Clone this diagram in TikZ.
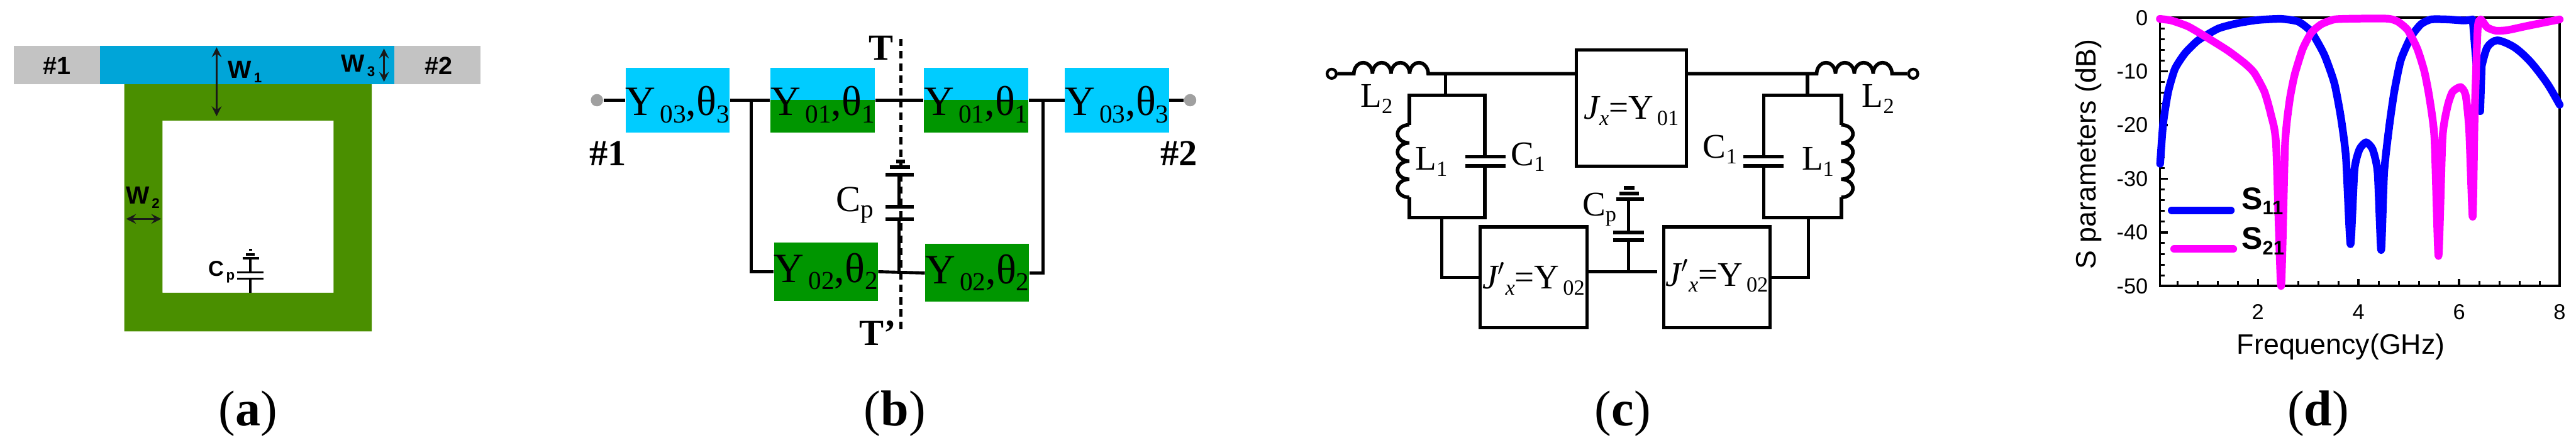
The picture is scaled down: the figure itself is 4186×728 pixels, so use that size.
\documentclass[tikz,border=0pt]{standalone}
\usepackage{fontspec}
\setmainfont{Liberation Serif}
\newfontfamily\arialf{Liberation Sans}
\newcommand{\lowtxt}[2][12]{\raisebox{-.17em}{\fontsize{#1}{#1}\selectfont #2}}
\newcommand{\fsz}[1]{\fontsize{#1}{#1}\selectfont}
\definecolor{stripgrey}{HTML}{C3C3C3}
\definecolor{stripblue}{HTML}{00A5D8}
\definecolor{ringgreen}{HTML}{4A8F00}
\definecolor{tlcyan}{HTML}{00CCFF}
\definecolor{tlgreen}{HTML}{009600}
\definecolor{portgrey}{HTML}{A0A0A0}
\definecolor{sblue}{HTML}{0000FF}
\definecolor{smagenta}{HTML}{FF00FF}

\begin{document}
\begin{tikzpicture}[x=.01cm,y=-.01cm]
   \tikzstyle{wire}=[line width=.058cm, line join=miter]
   \tikzstyle{thinwire}=[line width=.05cm]
   \tikzstyle{plate}=[line width=.06cm]
   \tikzstyle{dimarrow}=[line width=.035cm, stealth-stealth, black!90]
   \tikzstyle{lbl}=[inner sep=0pt, font=\fsz{16}]
   \tikzstyle{caption}=[inner sep=0pt, font=\fsz{23.3}]
   \tikzstyle{dimtext}=[inner sep=0pt, font=\arialf\bfseries\fsz{11.5}]
   \tikzstyle{tlbox}=[inner sep=0pt, minimum width=1.6cm, minimum height=1.06cm, text height=.5cm, text depth=0pt, font=\fsz{19.3}, fill=tlcyan]
   \tikzstyle{halfbox}=[tlbox, minimum width=1.7cm, path picture={\fill[tlgreen] (path picture bounding box.west) rectangle (path picture bounding box.south east);}]
   \tikzstyle{lowbox}=[tlbox, minimum height=.94cm, text height=.34cm, fill=tlgreen]
   \tikzstyle{jbox}=[draw, line width=.052cm, inner sep=0pt, text depth=0pt, font=\fsz{16}]
   \tikzstyle{port}=[circle, fill=portgrey, inner sep=0pt, minimum size=.2cm]
   \tikzstyle{openport}=[circle, draw, fill=white, line width=.045cm, inner sep=0pt, minimum size=.15cm]
   \tikzstyle{curve}=[line width=.125cm, line cap=round, line join=round]
   \tikzstyle{ticklab}=[inner sep=0pt, font=\arialf\fsz{10}]
   \tikzstyle{axislab}=[inner sep=0pt, font=\arialf\fsz{13}]
   \useasboundingbox (0,0) rectangle (4186,728);

% layout
\fill[stripgrey] (22,75) rectangle (781,137);
\fill[stripblue] (162,75) rectangle (641,137);
\fill[ringgreen, even odd rule] (202,137) rectangle (604,539) (264,196) rectangle (542,476);
\node[dimtext] (pa1) at (93,107) {\#1};
\node[dimtext] (pa2) at (713,107) {\#2};
\node[dimtext] (w1) at (398,117) {W\lowtxt[6.5]{\,1}};
\node[dimtext] (w3) at (582,107) {W\lowtxt[6.5]{\,3}};
\node[dimtext] (w2) at (232,321) {W\lowtxt[6.5]{\,2}};
\draw[dimarrow] (352,77) -- (352,189);
\draw[dimarrow] (624,79) -- (624,133);
\draw[dimarrow] (205,356) -- (262,356);
\draw[line width=.04cm] (407,476) -- (407,453) (407,443) -- (407,420);
\draw[line width=.03cm] (385,453) -- (428,453) (385,443) -- (428,443);
\draw[line width=.035cm] (394,420) -- (421,420) (400,414) -- (414,414) (405,406) -- (410,406);
\node[inner sep=0pt, font=\arialf\bfseries\fsz{10}] (cpa) at (360,442) {C\lowtxt[6.5]{\,p}};
\node[caption] (capa) at (403,673) {(\textbf{a})};

% transmission line model
\draw[line width=.045cm, dash pattern=on .12cm off .08cm] (1464,63) -- (1464,541);
\node[port] (b1) at (970,163) {};
\node[port] (b2) at (1934,163) {};
\node[tlbox] (y3l) at (1101,163) {Y\lowtxt{\,03},θ\lowtxt{3}};
\node[halfbox] (y1l) at (1337,163) {Y\lowtxt{\,01},θ\lowtxt{1}};
\node[halfbox] (y1r) at (1586,163) {Y\lowtxt{\,01},θ\lowtxt{1}};
\node[tlbox] (y3r) at (1815,163) {Y\lowtxt{\,03},θ\lowtxt{3}};
\node[lowbox] (y2l) at (1342,442) {Y\lowtxt{\,02},θ\lowtxt{2}};
\node[lowbox] (y2r) at (1588,444) {Y\lowtxt{\,02},θ\lowtxt{2}};
\coordinate (jl) at (1221,163);
\coordinate (jr) at (1695,163);
\coordinate (jm) at (1461,442);
\draw[wire] (b1) -- (y3l) (y3l) -- (y1l) (y1l) -- (y1r) (y1r) -- (y3r) (y3r) -- (b2);
\draw[thinwire] (jl) |- (y2l.west);
\draw[thinwire] (jr) |- (y2r.east);
\draw[thinwire] (y2l.east) -- (y2r.west);
\draw[thinwire] (jm) -- (1461,357) (1461,336) -- (1461,284);
\draw[plate] (1439,357) -- (1485,357) (1439,336) -- (1485,336) (1439,284) -- (1485,284) (1446,272) -- (1479,272) (1456,263) -- (1471,263);
\node[inner sep=0pt, font=\fsz{17}] (cpb) at (1389,334) {C\lowtxt[12]{p}};
\node[inner sep=0pt, font=\bfseries\fsz{17}] (tt) at (1432,78) {T};
\node[inner sep=0pt, font=\bfseries\fsz{17}] (ttp) at (1426,542) {T'};
\node[inner sep=0pt, font=\bfseries\fsz{17}] (nb1) at (988,250) {\#1};
\node[inner sep=0pt, font=\bfseries\fsz{17}] (nb2) at (1916,250) {\#2};
\node[caption] (capb) at (1454,673) {(\textbf{b})};

% lumped model
\node[jbox, minimum width=1.78cm, minimum height=1.89cm, text height=.36cm] (jt) at (2651,176) {\textit{J\lowtxt[10]{x}}=Y\lowtxt[10]{\,01}};
\node[jbox, minimum width=1.74cm, minimum height=1.64cm, text height=.38cm] (jl2) at (2492,451) {\textit{J$'$\lowtxt[10]{x}}=Y\lowtxt[10]{\,02}};
\node[jbox, minimum width=1.73cm, minimum height=1.64cm, text height=.28cm] (jr2) at (2790,451) {\textit{J$'$\lowtxt[10]{x}}=Y\lowtxt[10]{\,02}};
\node[openport] (c1) at (2164,120) {};
\node[openport] (c2) at (3109,120) {};
\coordinate (cl) at (2200,120);
\coordinate (cr) at (2952,120);
\draw[wire] (c1) -- (cl) foreach \i in {1,...,4} {arc[start angle=180, end angle=0, x radius=.151cm, y radius=.18cm]} -- (jt.west |- 0,120);
\draw[wire] (jt.east |- 0,120) -- (cr) foreach \i in {1,...,4} {arc[start angle=180, end angle=0, x radius=.153cm, y radius=.18cm]} -- (c2);
% left tank
\draw[wire] (2349,120) -- (2349,155);
\draw[wire] (2290,203) -- (2290,155) -- (2413,155) -- (2413,255) (2413,270) -- (2413,354) -- (2290,354) -- (2290,321);
\draw[wire] (2290,203) foreach \i in {1,...,4} {arc[start angle=90, end angle=270, x radius=.19cm, y radius=.1475cm]};
\draw[plate] (2381,255) -- (2447,255) (2381,270) -- (2447,270);
% right tank
\draw[wire] (2937,120) -- (2937,155);
\draw[wire] (2992,203) -- (2992,155) -- (2866,155) -- (2866,255) (2866,270) -- (2866,354) -- (2992,354) -- (2992,321);
\draw[wire] (2992,203) foreach \i in {1,...,4} {arc[start angle=90, end angle=-90, x radius=.19cm, y radius=.1475cm]};
\draw[plate] (2833,255) -- (2898,255) (2833,270) -- (2898,270);
% bottom
\coordinate (cg) at (2693,442);
\coordinate (cs) at (2646,442);
\draw[thinwire] (2343,354) |- (jl2.west);
\draw[thinwire] (2939,354) |- (jr2.east);
\draw[thinwire] (jl2.east |- cg) -- (cg);
\draw[thinwire] (cs) -- (2646,390) (2646,378) -- (2646,324);
\draw[plate] (2621,390) -- (2671,390) (2621,378) -- (2671,378) (2626,324) -- (2671,324) (2632,315) -- (2663,315) (2639,306) -- (2656,306);
\node[lbl] (l2a) at (2237,161) {L\lowtxt[10]{2}};
\node[lbl] (l2b) at (3052,161) {L\lowtxt[10]{2}};
\node[lbl] (l1a) at (2326,263) {L\lowtxt[10]{1}};
\node[lbl] (l1b) at (2954,263) {L\lowtxt[10]{1}};
\node[lbl] (c1a) at (2483,255) {C\lowtxt[10]{1}};
\node[lbl] (c1b) at (2795,243) {C\lowtxt[10]{1}};
\node[lbl] (cpc) at (2599,341) {C\lowtxt[10]{p}};
\node[caption] (capc) at (2637,673) {(\textbf{c})};

% S parameters
\begin{scope}[shift={(3505.7,29)},x=.8167cm,y=.0872cm]
\draw[line width=.04cm] (.052,0) rectangle (8,-50);
\foreach \f in {0.4,0.8,...,7.7} \draw[line width=.03cm] (\f,-50) -- +(0,.08cm);
\foreach \f in {2,4,6} \draw[line width=.035cm] (\f,-50) -- +(0,.11cm);
\foreach \d in {-2,-4,...,-48} \draw[line width=.03cm] (.052,\d) -- +(.08cm,0);
\foreach \d in {-10,-20,-30,-40} \draw[line width=.035cm] (.052,\d) -- +(.13cm,0);
\foreach \f in {2,4,6,8} \node[ticklab] (fx\f) at (\f,-54.8) {\f};
\foreach \d in {0,-10,-20,-30,-40,-50} \node[ticklab, anchor=east] (dy\d) at (-.18,\d) {\d};
\draw[curve, sblue] plot[smooth, tension=.35] coordinates {(.055,-27.2) (.115,-19.7) (.215,-13.8) (.35,-9.5) (.55,-6.6) (.81,-4.2) (1.21,-2) (1.6,-1) (2,-.4) (2.46,-.2) (2.8,-.7) (3.06,-2.6) (3.32,-6.9) (3.52,-12.2) (3.65,-18.6) (3.75,-26) (3.84,-42.2) (3.92,-28.3) (4.02,-24.5) (4.15,-23.2) (4.28,-24.5) (4.38,-28.8) (4.45,-43.3) (4.51,-28.8) (4.61,-20.3) (4.71,-13.8) (4.84,-7.9) (5.04,-3.6) (5.24,-1.2) (5.44,-.3) (5.77,-.3) (6.1,-.5) (6.27,-.3)} -- (6.42,-17.4) -- (6.45,-9) plot[smooth, tension=.5] coordinates {(6.45,-9) (6.56,-5.5) (6.76,-4.2) (7.1,-5.5) (7.42,-8.2) (7.75,-12.2) (8,-16.2)};
\draw[curve, smagenta] plot[smooth, tension=.35] coordinates {(.05,-.2) (.28,-.5) (.61,-1.6) (.94,-3.4) (1.4,-6.1) (1.74,-8.5) (1.93,-10.3) (2.13,-13.8) (2.26,-18.1) (2.36,-23.5) (2.46,-50) (2.54,-23.5) (2.63,-15.4) (2.73,-10.6) (2.89,-5.8) (3.06,-2.8) (3.26,-1.2) (3.52,-.3) (3.92,-.16) (4.58,-.16) (4.78,-.7) (4.98,-2.3) (5.17,-5.8) (5.31,-10) (5.41,-14.9) (5.51,-22.4) (5.59,-44.4) (5.67,-22.4) (5.77,-16.5) (5.87,-13.8) (6.03,-12.9) (6.13,-14.4) (6.2,-20.8) (6.27,-37.1) (6.31,-18) (6.37,-2) (6.43,-.3) (6.56,-1.8) (6.73,-2.4) (6.96,-2.3) (7.36,-1.5) (8,-.3)};
\end{scope}
\coordinate (lg1a) at (3529,342);
\coordinate (lg1b) at (3625,342);
\coordinate (lg2a) at (3533,405);
\coordinate (lg2b) at (3629,405);
\draw[curve, sblue] (lg1a) -- (lg1b);
\draw[curve, smagenta] (lg2a) -- (lg2b);
\node[inner sep=0pt, anchor=west, font=\arialf\bfseries\fsz{14.5}] (s11) at (3642,327) {S\lowtxt[9]{11}};
\node[inner sep=0pt, anchor=west, font=\arialf\bfseries\fsz{14.5}] (s21) at (3642,392) {S\lowtxt[9]{21}};
\node[axislab] (xl) at (3804,564) {Frequency(GHz)};
\node[axislab, rotate=90] (yl) at (3394,251) {S parameters (dB)};
\node[caption] (capd) at (3767,673) {(\textbf{d})};

\end{tikzpicture}
\end{document}
